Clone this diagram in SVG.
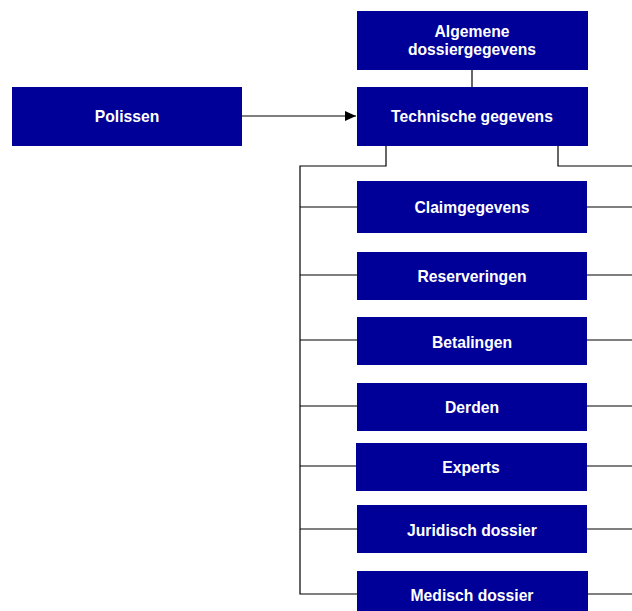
<svg xmlns="http://www.w3.org/2000/svg" width="632" height="611" viewBox="0 0 632 611">
<defs>
<style>
.box{fill:#000099;}
.t{fill:#ffffff;font-family:"Liberation Sans",Arial,sans-serif;font-weight:bold;font-size:15.7px;text-anchor:middle;}
.c{fill:none;stroke:#000000;stroke-width:1.2;}
</style>
<marker id="arr" markerWidth="12" markerHeight="10" refX="11" refY="5" orient="auto" markerUnits="userSpaceOnUse">
<path d="M0,0 L11,5 L0,10 Z" fill="#000000"/>
</marker>
</defs>
<rect width="632" height="611" fill="#ffffff"/>
<g id="connectors">
<line class="c" x1="472" y1="70" x2="472" y2="87"/>
<line class="c" x1="242" y1="116" x2="356" y2="116" marker-end="url(#arr)"/>
<polyline class="c" points="386,146 386,166 300,166 300,594 357,594"/>
<polyline class="c" points="558,146 558,166 632,166"/>
<line class="c" x1="300" y1="207" x2="357" y2="207"/>
<line class="c" x1="300" y1="275" x2="357" y2="275"/>
<line class="c" x1="300" y1="340" x2="357" y2="340"/>
<line class="c" x1="300" y1="406" x2="357" y2="406"/>
<line class="c" x1="300" y1="466" x2="357" y2="466"/>
<line class="c" x1="300" y1="529" x2="357" y2="529"/>
<line class="c" x1="587" y1="207" x2="632" y2="207"/>
<line class="c" x1="587" y1="275" x2="632" y2="275"/>
<line class="c" x1="587" y1="340" x2="632" y2="340"/>
<line class="c" x1="587" y1="406" x2="632" y2="406"/>
<line class="c" x1="587" y1="466" x2="632" y2="466"/>
<line class="c" x1="587" y1="529" x2="632" y2="529"/>
<line class="c" x1="588" y1="594" x2="632" y2="594"/>
</g>
<g id="algemene"><rect class="box" x="357" y="11" width="231" height="59"/><text class="t" x="472" y="37">Algemene</text><text class="t" x="472" y="55">dossiergegevens</text></g>
<g id="technische"><rect class="box" x="357" y="87" width="231" height="59"/><text class="t" x="472" y="121.5">Technische gegevens</text></g>
<g id="polissen"><rect class="box" x="12" y="87" width="230" height="59"/><text class="t" x="127" y="121.5">Polissen</text></g>
<g id="claimgegevens"><rect class="box" x="357" y="181" width="230" height="52"/><text class="t" x="472" y="212.5">Claimgegevens</text></g>
<g id="reserveringen"><rect class="box" x="357" y="252" width="230" height="48"/><text class="t" x="472" y="281.5">Reserveringen</text></g>
<g id="betalingen"><rect class="box" x="357" y="317" width="230" height="48"/><text class="t" x="472" y="347.5">Betalingen</text></g>
<g id="derden"><rect class="box" x="357" y="383" width="230" height="48"/><text class="t" x="472" y="413">Derden</text></g>
<g id="experts"><rect class="box" x="356" y="443" width="231" height="48"/><text class="t" x="471" y="473">Experts</text></g>
<g id="juridisch"><rect class="box" x="357" y="505" width="230" height="48"/><text class="t" x="472" y="535.5">Juridisch dossier</text></g>
<g id="medisch"><rect class="box" x="357" y="571" width="231" height="48"/><text class="t" x="472" y="600.5">Medisch dossier</text></g>
</svg>
